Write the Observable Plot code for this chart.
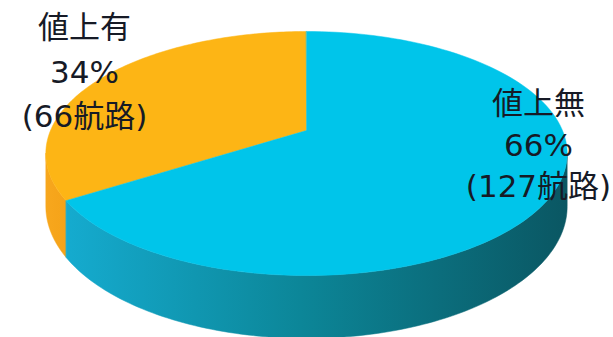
<!DOCTYPE html>
<html>
<head>
<meta charset="utf-8">
<script src="https://cdn.jsdelivr.net/npm/d3@7"></script>
<script src="https://cdn.jsdelivr.net/npm/@observablehq/plot@0.6"></script>
<style>
  html, body { margin: 0; padding: 0; background: #fff; }
</style>
</head>
<body>
<div id="chart"></div>
<script>
// ---- data ----
const categories = ["値上有", "値上無"];
const percents = [34, 66];
const routes = [66, 127];

// ---- styles / layout ----
const topColors = ["#fdb515", "#00c5ea"];
const W = 613, H = 337;
// perspective disc parameters
const geom = {cx: 306, cy: 130, rx: 256, ry: 117.7, k: 0.1885, depth: 51};
const labelPos = [
  {x: 84, y: 28, gap: 44.5},
  {x: 538, y: 104, gap: 41.5}
];

function proj(theta, bottom) {
  const u = -Math.sin(theta), v = -Math.cos(theta);
  const w = 1 - geom.k * v;
  return {
    x: geom.cx + geom.rx * u / w,
    y: geom.cy + (geom.ry * v + (bottom ? geom.depth : 0)) / w
  };
}

const total = d3.sum(percents);
const rad = d => d / total * 2 * Math.PI;
// silhouette angles (widest points)
const leftSil = Math.PI / 2 + Math.asin(geom.k);
const rightSil = 2 * Math.PI - leftSil;

const tops = [], sides = [];
let start = 0;
percents.forEach((p, i) => {
  const a0 = start, a1 = start + rad(p);
  start = a1;
  const c = {x: geom.cx, y: geom.cy};
  tops.push({slice: categories[i], ...c});
  const n = 120;
  for (let j = 0; j <= n; j++) {
    const t = a0 + (a1 - a0) * j / n;
    tops.push({slice: categories[i], ...proj(t, false)});
  }
  const s0 = Math.max(a0, leftSil), s1 = Math.min(a1, rightSil);
  if (s1 > s0) {
    const pts = [];
    for (let j = 0; j <= n; j++) pts.push(proj(s0 + (s1 - s0) * j / n, false));
    for (let j = n; j >= 0; j--) pts.push(proj(s0 + (s1 - s0) * j / n, true));
    pts.forEach(pt => sides.push({slice: categories[i], idx: i, ...pt}));
  }
});

const labels = [];
categories.forEach((c, i) => {
  const lines = [c, `${percents[i]}%`, `(${routes[i]}航路)`];
  lines.forEach((t, j) => labels.push({text: t, x: labelPos[i].x, y: labelPos[i].y + j * labelPos[i].gap}));
});

const sideMarks = categories.map((c, i) =>
  Plot.line(sides.filter(d => d.idx === i), {
    x: "x", y: "y", fill: `url(#sideGrad${i})`, stroke: `url(#sideGrad${i})`, strokeWidth: 0.5, curve: "linear-closed"
  })
);

const svg = Plot.plot({
  width: W,
  height: H,
  margin: 0,
  x: {domain: [0, W], range: [0, W], axis: null},
  y: {domain: [0, H], range: [0, H], axis: null},
  color: {domain: categories, range: topColors},
  style: {fontFamily: "'DejaVu Sans', 'Noto Sans CJK JP', sans-serif", background: "#fff"},
  marks: [
    ...sideMarks,
    Plot.line(tops, {x: "x", y: "y", z: "slice", fill: "slice", stroke: "slice", strokeWidth: 0.5, curve: "linear-closed"}),
    Plot.text(labels, {x: "x", y: "y", text: "text", fontSize: 31, fill: "#161a26", textAnchor: "middle"})
  ]
});

const defs = d3.select(svg).insert("defs", ":first-child");
const g0 = defs.append("linearGradient").attr("id", "sideGrad0")
  .attr("gradientUnits", "userSpaceOnUse").attr("x1", 40).attr("x2", 80).attr("y1", 0).attr("y2", 0);
g0.append("stop").attr("offset", 0).attr("stop-color", "#f8a81e");
g0.append("stop").attr("offset", 1).attr("stop-color", "#f3a016");
const g1 = defs.append("linearGradient").attr("id", "sideGrad1")
  .attr("gradientUnits", "userSpaceOnUse").attr("x1", 65).attr("x2", 565).attr("y1", 0).attr("y2", 0);
g1.append("stop").attr("offset", 0).attr("stop-color", "#15abcf");
g1.append("stop").attr("offset", 0.47).attr("stop-color", "#0c8698");
g1.append("stop").attr("offset", 1).attr("stop-color", "#0a5763");

document.getElementById("chart").appendChild(svg);
</script>
</body>
</html>
